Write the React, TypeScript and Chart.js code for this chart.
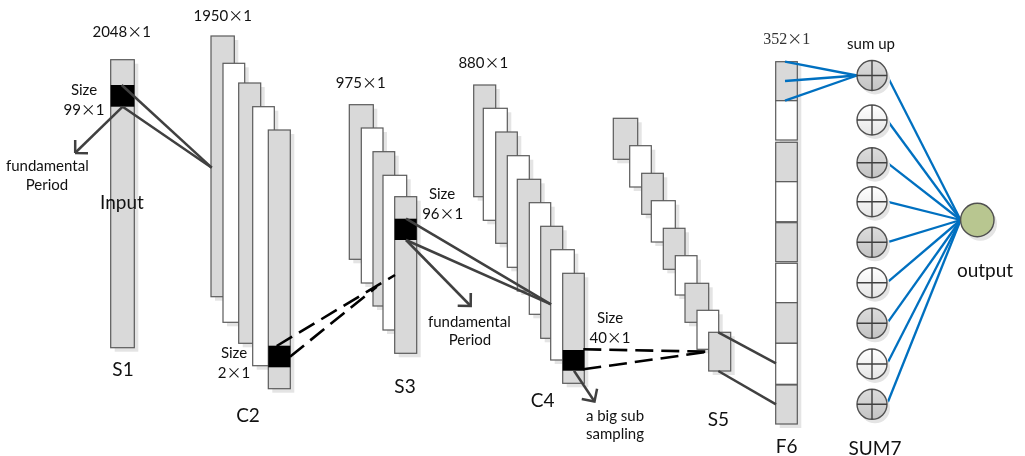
import { useEffect, useRef } from "react";
import { Chart, registerables } from "chart.js";

Chart.register(...registerables);

// ---------- diagram data (in the 1025 x 456 drawing space of the linear scales) ----------
// feature maps: [x0, y0, x1, y1, shade]  shade 1 = grey, 0 = white
const s1Maps = [[110.7, 59.7, 134.3, 347.7, 1]];
const c2Maps = [
  [211, 36, 234.3, 296.7, 1],
  [223, 63.3, 244.7, 322.3, 0],
  [238.7, 83, 260.7, 343.3, 1],
  [252.7, 106.7, 274.3, 365.7, 0],
  [268.3, 130, 290.3, 388.7, 1],
];
const s3Maps = [
  [349.3, 104.7, 373.3, 259.3, 1],
  [361.3, 128, 383, 283, 0],
  [373, 151.7, 394.7, 306, 1],
  [383, 175.3, 406.7, 330, 0],
  [394.7, 196.7, 416.7, 353.3, 1],
];
const c4Maps = [
  [473.7, 85, 495.7, 196.7, 1],
  [483.3, 108.3, 507.3, 220.3, 0],
  [495.7, 132, 517.3, 243.3, 1],
  [507.3, 155.7, 529.3, 267.3, 0],
  [517.3, 179.3, 540.7, 291, 1],
  [529.3, 202.7, 550.7, 314.3, 0],
  [540.7, 226.3, 562.7, 338.3, 1],
  [550.7, 249.7, 574.3, 360, 0],
  [562.7, 273.3, 584.3, 383.3, 1],
];
const s5Maps = [
  [613.3, 118.3, 637.7, 159.3, 1],
  [629.7, 145.7, 651.3, 187, 0],
  [641.7, 173.3, 663.3, 214.3, 1],
  [651.3, 200.7, 675.3, 242, 0],
  [663.3, 228.3, 685, 269.3, 1],
  [675.3, 255.7, 697, 295, 0],
  [685, 283.3, 708.7, 322.3, 1],
  [697, 310.3, 718.7, 349.3, 0],
  [708.7, 332.3, 730.7, 371, 1],
];
const f6Cells = [
  [775.7, 61.7, 797.3, 100.7, 1],
  [775.7, 100.7, 797.3, 140, 0],
  [775.7, 142.3, 797.3, 181.7, 1],
  [775.7, 181.7, 797.3, 221.7, 0],
  [775.7, 222.7, 797.3, 261.7, 1],
  [775.7, 263.3, 797.3, 302.7, 0],
  [775.7, 302.7, 797.3, 343.3, 1],
  [775.7, 343.3, 797.3, 384.3, 0],
  [775.7, 385, 797.3, 424, 1],
];
// black kernel windows
const kernels = [
  [110.7, 85, 134.3, 106.7],
  [268.3, 345.7, 290.3, 367.3],
  [394.7, 218.7, 416.7, 240],
  [562.7, 350, 584.3, 370.7],
];

// connections
const solidLinks = [
  [[121.7, 85], [211.7, 167.7]],
  [[122.7, 106.7], [211.7, 167.7]],
  [[406, 218.7], [551, 304.3]],
  [[406, 240], [551, 304.3]],
  [[718.3, 332.3], [776, 363.3]],
  [[718.3, 371], [776, 404.3]],
];
const arrowLinks = [
  [[122.7, 106.7], [75, 153]],
  [[406, 240], [470.7, 306]],
  [[574, 370.7], [594.5, 401.5]],
];
const dashedLinks = [
  [[276.7, 346], [395, 275]],
  [[290, 356.7], [376.7, 286.7]],
  [[583.3, 349.3], [708.3, 351.7]],
  [[583.3, 369.3], [708.3, 351.7]],
];
const f6ToSum = [
  [[785, 61.7], [857, 75.5]],
  [[785, 81], [857, 75.5]],
  [[785, 100.7], [857, 75.5]],
];

// SUM7 nodes and output
const sumNodeX = 872;
const sumNodeY = [75.5, 120, 162.7, 201.7, 242.3, 282.7, 323.3, 364, 404.3];
const sumNodeShade = [1, 0, 1, 0, 1, 0, 1, 0, 1];
const sumNodeR = 15;
const outputNode = [977.3, 220];
const outputR = 16.7;

// texts
const layerLabels = ["S1", "C2", "S3", "C4", "S5", "F6", "SUM7", "Input", "output"];
const layerLabelAnchors = [
  [123, 376], [248, 421.7], [405, 392.7], [542.7, 407.3], [718.3, 425.7],
  [786.7, 453.3], [875, 455], [122, 209.3], [985, 276.7],
];
const mapSizeLabels = ["2048×1", "1950×1", "975×1", "880×1"];
const mapSizeAnchors = [[121.7, 37.3], [222.7, 20.7], [360.7, 88.3], [483.3, 68.3]];
const f6SizeLabel = "352×1";
const f6SizeAnchor = [786.7, 44.3];
const kernelLabels = ["Size", "99×1", "Size", "2×1", "Size", "96×1", "Size", "40×1"];
const kernelAnchors = [
  [84, 95], [84, 115], [234, 357.7], [234, 378], [442, 199], [442.7, 218.7], [610, 322.7], [610, 343.3],
];
const noteLabels = ["fundamental", "Period", "fundamental", "Period", "a big sub", "sampling", "sum up"];
const noteAnchors = [
  [47.3, 171], [47, 190], [469.3, 326.7], [470, 345], [615, 420.7], [615, 439.3], [871, 49.3],
];

// ---------- styles ----------
const GREY = "#d9d9d9";
const EDGE = "#5a5a5a";
const SHADOW = "#e4e4e4";
const DARK = "#404040";
const BLUE = "#0070c0";
const TIMES_FONT = '15px "Noto Sans CJK SC", sans-serif';

function seg(a: number[][], color: string, width: number, dash: number[] = []) {
  return {
    data: a.map((p) => ({ x: p[0], y: p[1] })),
    showLine: true,
    borderColor: color,
    borderWidth: width,
    borderDash: dash,
    pointRadius: 0,
    fill: false,
    tension: 0,
    borderCapStyle: "butt" as const,
  };
}

function arrowHead(link: number[][]) {
  const [a, b] = link;
  const dx = a[0] - b[0];
  const dy = a[1] - b[1];
  const len = Math.hypot(dx, dy);
  const ux = dx / len;
  const uy = dy / len;
  const L = 13;
  const c = Math.cos(Math.PI / 4);
  const s = Math.sin(Math.PI / 4);
  const r1 = [b[0] + L * (ux * c - uy * s), b[1] + L * (ux * s + uy * c)];
  const r2 = [b[0] + L * (ux * c + uy * s), b[1] + L * (-ux * s + uy * c)];
  return [r1, b, r2];
}

function buildDatasets() {
  const ds: any[] = [];
  solidLinks.forEach((l) => ds.push(seg(l, DARK, 2.5)));
  arrowLinks.forEach((l) => {
    ds.push(seg(l, DARK, 2.5));
    ds.push(seg(arrowHead(l), DARK, 2.5));
  });
  dashedLinks.forEach((l) => ds.push(seg(l, "#000000", 2.6, [18, 8])));
  f6ToSum.forEach((l) => ds.push(seg(l, BLUE, 2.3)));
  sumNodeY.forEach((y) =>
    ds.push(seg([[sumNodeX + sumNodeR, y], [outputNode[0] - outputR, outputNode[1]]], BLUE, 2.3))
  );
  return ds;
}

// draws "a×b" with a wide (CJK style) multiplication sign, centred on x
function drawSizeText(ctx: CanvasRenderingContext2D, text: string, x: number, y: number, font: string) {
  const parts = text.split("×");
  ctx.textAlign = "left";
  const widths: number[] = [];
  const pieces: { t: string; f: string }[] = [];
  parts.forEach((p, i) => {
    if (p) pieces.push({ t: p, f: font });
    if (i < parts.length - 1) pieces.push({ t: "×", f: TIMES_FONT });
  });
  pieces.forEach((pc) => {
    ctx.font = pc.f;
    widths.push(pc.t === "×" ? Math.max(ctx.measureText(pc.t).width, 15) : ctx.measureText(pc.t).width);
  });
  const total = widths.reduce((a, b) => a + b, 0);
  let cx = x - total / 2;
  pieces.forEach((pc, i) => {
    ctx.font = pc.f;
    if (pc.t === "×") {
      const w = ctx.measureText(pc.t).width;
      ctx.fillText(pc.t, cx + (widths[i] - w) / 2, y);
    } else {
      ctx.fillText(pc.t, cx, y);
    }
    cx += widths[i];
  });
  ctx.textAlign = "center";
}

const diagramPlugin = {
  id: "diagram",
  beforeDatasetsDraw(chart: any) {
    const ctx: CanvasRenderingContext2D = chart.ctx;
    const sx = chart.scales.x;
    const sy = chart.scales.y;
    const px = (v: number) => sx.getPixelForValue(v);
    const py = (v: number) => sy.getPixelForValue(v);
    ctx.save();
    const drawStack = (maps: number[][]) => {
      maps.forEach((m) => {
        const x0 = px(m[0]), y0 = py(m[1]), x1 = px(m[2]), y1 = py(m[3]);
        ctx.fillStyle = SHADOW;
        ctx.fillRect(x0 + 4, y0 + 4, x1 - x0, y1 - y0);
        ctx.fillStyle = m[4] ? GREY : "#ffffff";
        ctx.fillRect(x0, y0, x1 - x0, y1 - y0);
        ctx.strokeStyle = EDGE;
        ctx.lineWidth = 1.2;
        ctx.strokeRect(x0, y0, x1 - x0, y1 - y0);
      });
    };
    [s1Maps, c2Maps, s3Maps, c4Maps, s5Maps].forEach(drawStack);
    {
      const x0 = px(f6Cells[0][0]), y0 = py(f6Cells[0][1]);
      const x1 = px(f6Cells[0][2]), y1 = py(f6Cells[f6Cells.length - 1][3]);
      ctx.fillStyle = SHADOW;
      ctx.fillRect(x0 + 4, y0 + 4, x1 - x0, y1 - y0);
      f6Cells.forEach((m) => {
        const a = px(m[0]), b = py(m[1]), c = px(m[2]), d = py(m[3]);
        ctx.fillStyle = m[4] ? GREY : "#ffffff";
        ctx.fillRect(a, b, c - a, d - b);
        ctx.strokeStyle = EDGE;
        ctx.lineWidth = 1.2;
        ctx.strokeRect(a, b, c - a, d - b);
      });
    }
    kernels.forEach((k) => {
      const x0 = px(k[0]), y0 = py(k[1]), x1 = px(k[2]), y1 = py(k[3]);
      ctx.fillStyle = "#000000";
      ctx.fillRect(x0, y0, x1 - x0, y1 - y0);
    });
    ctx.restore();
  },
  afterDatasetsDraw(chart: any) {
    const ctx: CanvasRenderingContext2D = chart.ctx;
    const sx = chart.scales.x;
    const sy = chart.scales.y;
    const px = (v: number) => sx.getPixelForValue(v);
    const py = (v: number) => sy.getPixelForValue(v);
    ctx.save();
    sumNodeY.forEach((yv, i) => {
      const cx = px(sumNodeX), cy = py(yv);
      const r = sumNodeR;
      ctx.beginPath();
      ctx.arc(cx + 3, cy + 4, r, 0, Math.PI * 2);
      ctx.fillStyle = SHADOW;
      ctx.fill();
      const g = ctx.createLinearGradient(cx, cy - r, cx, cy + r);
      if (sumNodeShade[i]) {
        g.addColorStop(0, "#dcdcdc");
        g.addColorStop(1, "#c4c4c4");
      } else {
        g.addColorStop(0, "#ffffff");
        g.addColorStop(1, "#e6e6e6");
      }
      ctx.beginPath();
      ctx.arc(cx, cy, r, 0, Math.PI * 2);
      ctx.fillStyle = g;
      ctx.fill();
      ctx.strokeStyle = "#505050";
      ctx.lineWidth = 1.4;
      ctx.stroke();
      ctx.beginPath();
      ctx.moveTo(cx - r, cy);
      ctx.lineTo(cx + r, cy);
      ctx.moveTo(cx, cy - r);
      ctx.lineTo(cx, cy + r);
      ctx.strokeStyle = "#404040";
      ctx.lineWidth = 1.4;
      ctx.stroke();
    });
    {
      const cx = px(outputNode[0]), cy = py(outputNode[1]);
      ctx.beginPath();
      ctx.arc(cx + 3, cy + 4, outputR, 0, Math.PI * 2);
      ctx.fillStyle = SHADOW;
      ctx.fill();
      ctx.beginPath();
      ctx.arc(cx, cy, outputR, 0, Math.PI * 2);
      ctx.fillStyle = "#b8c690";
      ctx.fill();
      ctx.strokeStyle = "#505050";
      ctx.lineWidth = 1.4;
      ctx.stroke();
    }
    ctx.textAlign = "center";
    ctx.textBaseline = "alphabetic";
    ctx.fillStyle = "#111111";
    ctx.font = '19px Lato, "Noto Sans", sans-serif';
    layerLabels.forEach((t, i) => ctx.fillText(t, px(layerLabelAnchors[i][0]), py(layerLabelAnchors[i][1])));
    const small = '15px Lato, "Noto Sans", sans-serif';
    ctx.font = small;
    noteLabels.forEach((t, i) => ctx.fillText(t, px(noteAnchors[i][0]), py(noteAnchors[i][1])));
    kernelLabels.forEach((t, i) => drawSizeText(ctx, t, px(kernelAnchors[i][0]), py(kernelAnchors[i][1]), small));
    mapSizeLabels.forEach((t, i) => drawSizeText(ctx, t, px(mapSizeAnchors[i][0]), py(mapSizeAnchors[i][1]), small));
    ctx.fillStyle = "#333333";
    drawSizeText(ctx, f6SizeLabel, px(f6SizeAnchor[0]), py(f6SizeAnchor[1]), '16px "Liberation Serif", "DejaVu Serif", serif');
    ctx.restore();
  },
};

export default function App() {
  const ref = useRef<HTMLCanvasElement>(null);
  useEffect(() => {
    const canvas = ref.current;
    if (!canvas) return;
    const chart = new Chart(canvas, {
      type: "scatter",
      data: { datasets: buildDatasets() },
      options: {
        responsive: false,
        animation: false,
        events: [],
        layout: { padding: 0 },
        scales: {
          x: { type: "linear", min: 0, max: 1025, display: false },
          y: { type: "linear", min: 0, max: 456, reverse: true, display: false },
        },
        plugins: {
          legend: { display: false },
          tooltip: { enabled: false },
          title: { display: false },
        },
      },
      plugins: [diagramPlugin],
    } as any);
    return () => chart.destroy();
  }, []);
  return (
    <div style={{ position: "absolute", left: 0, top: 0, width: 1025, height: 456, background: "#ffffff" }}>
      <canvas ref={ref} width={1025} height={456} style={{ display: "block" }} />
    </div>
  );
}
